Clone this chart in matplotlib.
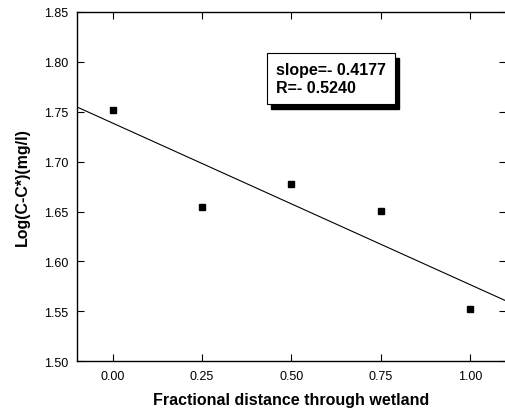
import numpy as np
import matplotlib
matplotlib.use('Agg')
import matplotlib.pyplot as plt
from matplotlib.patches import Rectangle

plt.rcParams['font.family'] = ['Liberation Sans', 'DejaVu Sans']

# data
distance = [0.00, 0.25, 0.50, 0.75, 1.00]
log_conc = [1.752, 1.655, 1.678, 1.651, 1.552]
x_ticks = [0.00, 0.25, 0.50, 0.75, 1.00]
y_ticks = [1.50, 1.55, 1.60, 1.65, 1.70, 1.75, 1.80, 1.85]
fit_text = 'slope=- 0.4177\nR=- 0.5240'

fig = plt.figure(figsize=(5.06, 4.14), dpi=100)
ax = fig.add_axes([0.152, 0.1244, 0.848, 0.8454])

ax.plot(distance, log_conc, 's', color='black', markersize=5)

# linear fit across the whole axis width
coef = np.polyfit(distance, log_conc, 1)
xl = np.array([-0.1, 1.1])
ax.plot(xl, np.polyval(coef, xl), color='black', linewidth=0.8)

ax.set_xlim(-0.1, 1.1)
ax.set_ylim(1.50, 1.85)
ax.set_xticks(x_ticks)
ax.set_yticks(y_ticks)
ax.set_xticklabels(['%.2f' % v for v in x_ticks])
ax.set_yticklabels(['%.2f' % v for v in y_ticks])
ax.tick_params(direction='in', length=5, width=0.8, labelsize=9,
               top=True, right=True, pad=6)
for s in ax.spines.values():
    s.set_linewidth(1.0)

ax.set_xlabel('Fractional distance through wetland', fontsize=11.5,
              fontweight='bold', labelpad=7)
ax.set_ylabel('Log(C-C*)(mg/l)', fontsize=11.5, fontweight='bold', labelpad=10)

# text box with drop shadow
bx, by, bw, bh = 0.5277, 0.7464, 0.253, 0.1225
fig.add_artist(Rectangle((bx + 4/506, by - 5/414), bw, bh, transform=fig.transFigure,
                         facecolor='black', edgecolor='black', zorder=5))
fig.add_artist(Rectangle((bx, by), bw, bh, transform=fig.transFigure,
                         facecolor='white', edgecolor='black', linewidth=0.8, zorder=6))
fig.text(bx + 9/506, by + bh/2, fit_text, fontsize=11.5, fontweight='bold',
         va='center', ha='left', linespacing=1.25, zorder=7)

fig.savefig('out.png', dpi=100)
